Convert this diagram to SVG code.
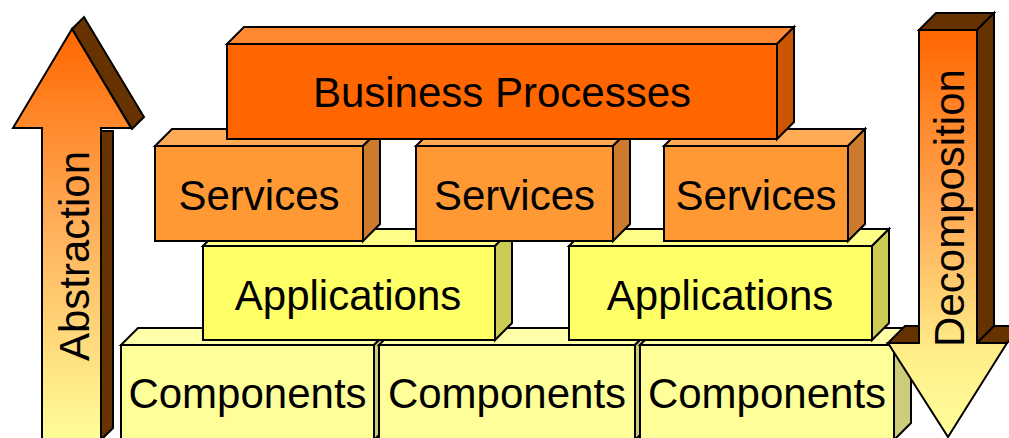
<svg xmlns="http://www.w3.org/2000/svg" width="1009" height="438" viewBox="0 0 1009 438">
<defs>
<style>
.s{stroke:#000;stroke-width:2;stroke-linejoin:miter}
.t{font-family:"Liberation Sans",Arial,Helvetica,sans-serif;font-size:42px;fill:#000;text-anchor:middle}
.bpF{fill:#FF6600}.bpT{fill:#FF8833}.bpS{fill:#CC5500}
.svF{fill:#FF9933}.svT{fill:#FFAA55}.svS{fill:#CC7A2E}
.apF{fill:#FFFF66}.apT{fill:#FFFF88}.apS{fill:#CCCC55}
.cpF{fill:#FFFF99}.cpT{fill:#FFFFAA}.cpS{fill:#CCCC7A}
.br{fill:#663300}
</style>
<linearGradient id="gL" gradientUnits="userSpaceOnUse" x1="0" y1="29" x2="0" y2="440">
<stop offset="0" stop-color="#FF6600"/>
<stop offset="0.45" stop-color="#FFAA55"/>
<stop offset="1" stop-color="#FFFF99"/>
</linearGradient>
<linearGradient id="gR" gradientUnits="userSpaceOnUse" x1="0" y1="30" x2="0" y2="437">
<stop offset="0" stop-color="#FF6600"/>
<stop offset="0.45" stop-color="#FFAA55"/>
<stop offset="0.8" stop-color="#FFEE8A"/>
<stop offset="1" stop-color="#FFFF99"/>
</linearGradient>
</defs>

<g id="abstraction-arrow">
<polygon class="br s" points="101,131 113,131 113,428 101,440"/>
<polygon class="br s" points="72,29 84,17 144,117 132,129"/>
<polygon class="s" fill="url(#gL)" points="72,29 131,128 101,128 101,442 42,442 42,128 13,128"/>
<text class="t" transform="translate(89,256) rotate(-90)">Abstraction</text>
</g>

<g id="components-1">
<polygon class="cpT s" points="121,345 138,328 391,328 374,345"/>
<polygon class="cpS s" points="374,345 391,328 391,423 374,440"/>
<rect class="cpF s" x="121" y="345" width="253" height="97"/>
<text class="t" x="247.5" y="408">Components</text>
</g>
<g id="components-2">
<polygon class="cpT s" points="379,345 396,328 652,328 635,345"/>
<polygon class="cpS s" points="635,345 652,328 652,423 635,440"/>
<rect class="cpF s" x="379" y="345" width="256" height="97"/>
<text class="t" x="507" y="408">Components</text>
</g>
<g id="components-3">
<polygon class="cpT s" points="640,345 657,328 911,328 894,345"/>
<polygon class="cpS s" points="894,345 911,328 911,423 894,440"/>
<rect class="cpF s" x="640" y="345" width="254" height="97"/>
<text class="t" x="767" y="408">Components</text>
</g>

<g id="applications-1">
<polygon class="apT s" points="203,246 220,229 512,229 495,246"/>
<polygon class="apS s" points="495,246 512,229 512,323 495,340"/>
<rect class="apF s" x="203" y="246" width="292" height="94"/>
<text class="t" x="348" y="310">Applications</text>
</g>
<g id="applications-2">
<polygon class="apT s" points="569,246 586,229 889,229 872,246"/>
<polygon class="apS s" points="872,246 889,229 889,323 872,340"/>
<rect class="apF s" x="569" y="246" width="303" height="94"/>
<text class="t" x="720" y="310">Applications</text>
</g>

<g id="services-1">
<polygon class="svT s" points="155,146 172,129 380,129 363,146"/>
<polygon class="svS s" points="363,146 380,129 380,224 363,241"/>
<rect class="svF s" x="155" y="146" width="208" height="95"/>
<text class="t" x="259" y="210">Services</text>
</g>
<g id="services-2">
<polygon class="svT s" points="416,146 433,129 630,129 613,146"/>
<polygon class="svS s" points="613,146 630,129 630,224 613,241"/>
<rect class="svF s" x="416" y="146" width="197" height="95"/>
<text class="t" x="514.5" y="210">Services</text>
</g>
<g id="services-3">
<polygon class="svT s" points="664,146 681,129 865,129 848,146"/>
<polygon class="svS s" points="848,146 865,129 865,224 848,241"/>
<rect class="svF s" x="664" y="146" width="184" height="95"/>
<text class="t" x="756" y="210">Services</text>
</g>

<g id="business-processes">
<polygon class="bpT s" points="227,44 244,27 794,27 777,44"/>
<polygon class="bpS s" points="777,44 794,27 794,122 777,139"/>
<rect class="bpF s" x="227" y="44" width="550" height="95"/>
<text class="t" x="502" y="107">Business Processes</text>
</g>

<g id="decomposition-arrow">
<polygon class="br s" points="919,30 936,13 994,13 977,30"/>
<polygon class="br s" points="977,30 994,13 994,326 977,343"/>
<polygon class="br s" points="888,343 905,326 919,326 919,343"/>
<polygon class="br s" points="977,343 994,326 1024,326 1007,343"/>
<polygon class="s" fill="url(#gR)" points="919,30 977,30 977,343 1007,343 948,437 888,343 919,343"/>
<text class="t" transform="translate(964,208) rotate(-90)">Decomposition</text>
</g>
</svg>
